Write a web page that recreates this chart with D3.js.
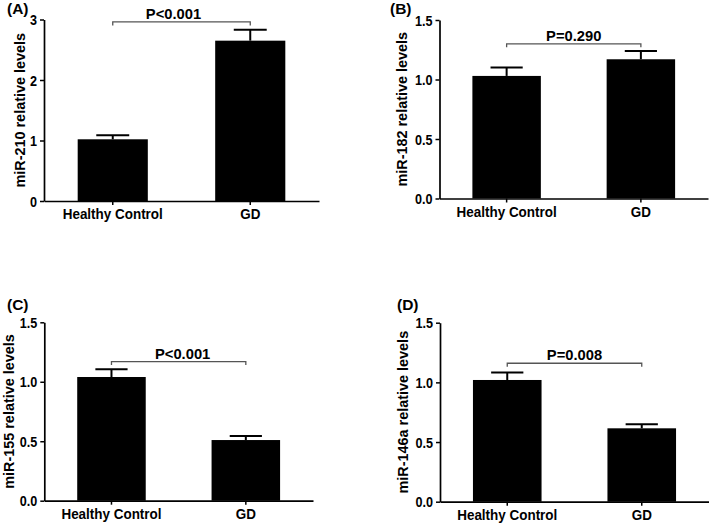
<!DOCTYPE html>
<html>
<head>
<meta charset="utf-8">
<script src="https://cdn.jsdelivr.net/npm/d3@7"></script>
<style>
  html, body { margin: 0; padding: 0; background: #fff; }
  svg { display: block; }
  text { font-family: "Liberation Sans", Arial, sans-serif; font-weight: bold; fill: #000; }
</style>
</head>
<body>
<svg id="chart" width="709" height="524"></svg>
<script>
// ---------- data ----------
const categories = ["Healthy Control", "GD"];
const panelTags = ["(A)", "(B)", "(C)", "(D)"];
const yTitles = ["miR-210 relative levels", "miR-182 relative levels", "miR-155 relative levels", "miR-146a relative levels"];

const miR210Mean = [1.02, 2.65];
const miR210Sem  = [0.065, 0.18];
const miR182Mean = [1.03, 1.17];
const miR182Sem  = [0.07, 0.07];
const miR155Mean = [1.04, 0.51];
const miR155Sem  = [0.065, 0.035];
const miR146aMean = [1.02, 0.615];
const miR146aSem  = [0.062, 0.035];

const yMaxes = [3, 1.5, 1.5, 1.5];
const yTicksA = [0, 1, 2, 3];
const yTicksBCD = [0, 0.5, 1.0, 1.5];
const pLabels = ["P<0.001", "P=0.290", "P<0.001", "P=0.008"];
const bracketLevels = [2.96, 1.30, 1.17, 1.16];

// ---------- layout ----------
const layout = [
  {left: 44,    right: 319, top: 19.5,  bottom: 201,   tagX: 7,   tagY: 14,  titleX: 25,    textDx: -8, tickFmt: d3.format("d")},
  {left: 439.5, right: 708, top: 20,    bottom: 198.5, tagX: 390, tagY: 14,  titleX: 406.5, textDx: 0,  tickFmt: d3.format(".1f")},
  {left: 44.3,  right: 313, top: 322.3, bottom: 500.7, tagX: 7,   tagY: 310, titleX: 14,    textDx: 4,  tickFmt: d3.format(".1f")},
  {left: 440,   right: 709, top: 322.7, bottom: 501.7, tagX: 397, tagY: 310, titleX: 408,   textDx: 0,  tickFmt: d3.format(".1f")}
];

const means = [miR210Mean, miR182Mean, miR155Mean, miR146aMean];
const sems  = [miR210Sem, miR182Sem, miR155Sem, miR146aSem];
const tickSets = [yTicksA, yTicksBCD, yTicksBCD, yTicksBCD];

const svg = d3.select("#chart");

// narrow the glyphs a little, as the reference font is taller than it is wide
function condense(sel, c) {
  sel.each(function () {
    const w = this.getComputedTextLength();
    this.setAttribute("textLength", w * c);
    this.setAttribute("lengthAdjust", "spacingAndGlyphs");
  });
}

layout.forEach((L, i) => {
  const g = svg.append("g");
  const x = d3.scaleBand().domain(categories).range([L.left, L.right])
    .paddingInner(0.49).paddingOuter(0.245);
  const y = d3.scaleLinear().domain([0, yMaxes[i]]).range([L.bottom, L.top]);

  const rows = categories.map((c, k) => ({cat: c, mean: means[i][k], sem: sems[i][k]}));

  // bars
  g.selectAll("rect.bar").data(rows).join("rect")
    .attr("class", "bar")
    .attr("x", d => x(d.cat))
    .attr("width", x.bandwidth())
    .attr("y", d => y(d.mean))
    .attr("height", d => y(0) - y(d.mean))
    .attr("fill", "#000");

  // error bars (upper only)
  const capW = x.bandwidth() * 0.47;
  const eb = g.selectAll("g.err").data(rows).join("g").attr("class", "err");
  eb.append("line")
    .attr("x1", d => x(d.cat) + x.bandwidth() / 2)
    .attr("x2", d => x(d.cat) + x.bandwidth() / 2)
    .attr("y1", d => y(d.mean))
    .attr("y2", d => y(d.mean + d.sem))
    .attr("stroke", "#000").attr("stroke-width", 2);
  eb.append("line")
    .attr("x1", d => x(d.cat) + x.bandwidth() / 2 - capW / 2)
    .attr("x2", d => x(d.cat) + x.bandwidth() / 2 + capW / 2)
    .attr("y1", d => y(d.mean + d.sem))
    .attr("y2", d => y(d.mean + d.sem))
    .attr("stroke", "#000").attr("stroke-width", 2);

  // axes
  const yAxis = d3.axisLeft(y).tickValues(tickSets[i]).tickFormat(L.tickFmt)
    .tickSize(4).tickSizeOuter(0).tickPadding(3);
  const ya = g.append("g").attr("transform", `translate(${L.left},0)`).call(yAxis);
  ya.attr("font-family", null).attr("font-size", null);
  ya.selectAll("text").style("font-size", "14px").attr("dy", "0.36em");
  condense(ya.selectAll("text"), 0.9);

  const xAxis = d3.axisBottom(x).tickSize(4).tickSizeOuter(0).tickPadding(4.5);
  const xa = g.append("g").attr("transform", `translate(0,${L.bottom})`).call(xAxis);
  xa.attr("font-family", null).attr("font-size", null);
  xa.selectAll("text").style("font-size", "14px");
  condense(xa.selectAll("text"), 0.96);

  [ya, xa].forEach(a => {
    a.select(".domain").attr("stroke", "#000").attr("stroke-width", 1.7);
    a.selectAll(".tick line").attr("stroke", "#000").attr("stroke-width", 1.5);
  });

  // y title
  const t = g.append("text")
    .attr("transform", `translate(${L.titleX},${(L.top + L.bottom) / 2}) rotate(-90)`)
    .attr("text-anchor", "middle")
    .style("font-size", "15.5px")
    .text(yTitles[i]);
  condense(t, 0.93);

  // panel tag
  g.append("text")
    .attr("x", L.tagX).attr("y", L.tagY)
    .style("font-size", "15.5px")
    .text(panelTags[i]);

  // significance bracket
  const bx1 = x(categories[0]) + x.bandwidth() / 2;
  const bx2 = x(categories[1]) + x.bandwidth() / 2;
  const by = y(bracketLevels[i]);
  g.append("path")
    .attr("d", `M${bx1},${by + 3.5}V${by}H${bx2}V${by + 3.5}`)
    .attr("fill", "none").attr("stroke", "#555").attr("stroke-width", 1.3);
  const p = g.append("text")
    .attr("x", (bx1 + bx2) / 2 + L.textDx)
    .attr("y", by - 3)
    .attr("text-anchor", "middle")
    .style("font-size", "15.5px")
    .text(pLabels[i]);
  condense(p, 0.95);
});
</script>
</body>
</html>
